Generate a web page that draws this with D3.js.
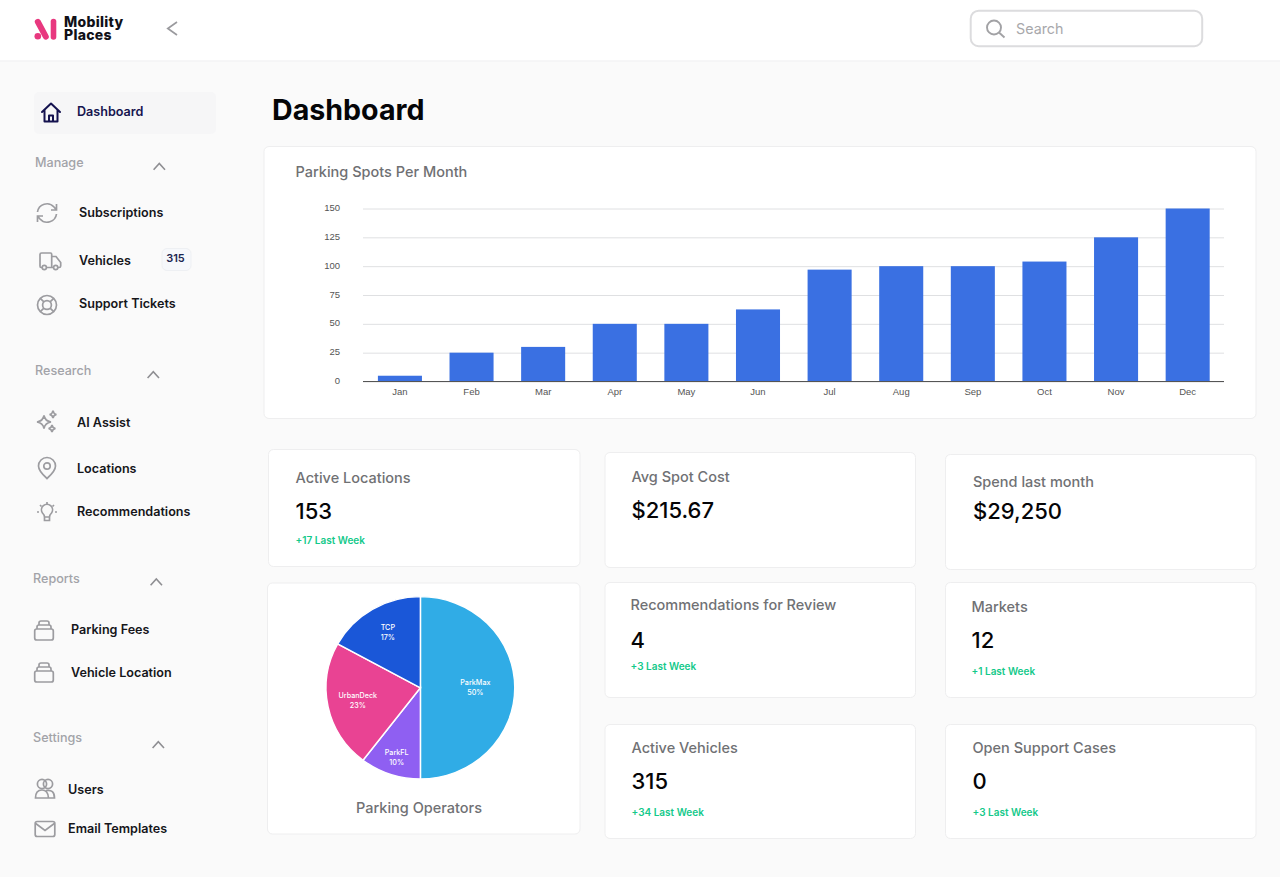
<!DOCTYPE html>
<html lang="en">
<head>
<meta charset="UTF-8">
<title>Mobility Places Dashboard</title>
<script src="https://cdn.jsdelivr.net/npm/d3@7"></script>
<style>
  html, body { margin: 0; padding: 0; background: #fafafa; }
  svg { display: block; font-family: Inter, "Noto Sans", sans-serif; }
</style>
</head>
<body>
<div id="container"></div>
<script>
    /* Data */
    const months = ['Jan', 'Feb', 'Mar', 'Apr', 'May', 'Jun', 'Jul', 'Aug', 'Sep', 'Oct', 'Nov', 'Dec']
    const spots = [5, 25, 30, 50, 50, 62.5, 97, 100, 100, 104, 125, 150]
    const yTicks = [0, 25, 50, 75, 100, 125, 150]

    const operators = ['ParkMax', 'ParkFL', 'UrbanDeck', 'TCP']
    const operatorShare = [50, 10.4, 22.6, 17]
    const operatorColors = ['#30ace6', '#8f5ff2', '#e94393', '#1a57d8']

    const cardTitles = ['Active Locations', 'Avg Spot Cost', 'Spend last month', 'Recommendations for Review', 'Markets', 'Active Vehicles', 'Open Support Cases']
    const cardValues = ['153', '$215.67', '$29,250', '4', '12', '315', '0']
    const cardDeltas = ['+17 Last Week', '', '', '+3 Last Week', '+1 Last Week', '+34 Last Week', '+3 Last Week']

    const navLabels = ['Subscriptions', 'Vehicles', 'Support Tickets', 'AI Assist', 'Locations', 'Recommendations', 'Parking Fees', 'Vehicle Location', 'Users', 'Email Templates']
    const navIcons = ['sync', 'truck', 'lifebuoy', 'sparkle', 'pin', 'bulb', 'stack', 'stack', 'users', 'mail']
    const sectionLabels = ['Manage', 'Research', 'Reports', 'Settings']

    /* Layout */
    const width = 1280
    const height = 877
    const cardLayout = [
        {x: 268.5, y: 449.5, w: 311.5, h: 117, tx: 295.5, ty: 483, vy: 519, dy: 544},
        {x: 605, y: 452.5, w: 310.5, h: 115, tx: 631.5, ty: 482, vy: 517.5, dy: 0},
        {x: 945.5, y: 454.5, w: 310.5, h: 115, tx: 973, ty: 487, vy: 518.5, dy: 0},
        {x: 605, y: 582.5, w: 310.5, h: 115, tx: 630.5, ty: 610, vy: 647.5, dy: 670},
        {x: 945.5, y: 582.5, w: 310.5, h: 115, tx: 971.5, ty: 612, vy: 647.5, dy: 675},
        {x: 605, y: 724.5, w: 310.5, h: 114, tx: 631.5, ty: 753, vy: 789, dy: 816},
        {x: 945.5, y: 724.5, w: 310.5, h: 114, tx: 972.5, ty: 753, vy: 789, dy: 816}
    ]
    const navLayout = [
        {ix: 47, iy: 213, tx: 79, ty: 217},
        {ix: 50, iy: 261, tx: 79, ty: 264.7},
        {ix: 47, iy: 305, tx: 79, ty: 308},
        {ix: 47, iy: 422, tx: 77, ty: 427},
        {ix: 47, iy: 468, tx: 77, ty: 472.7},
        {ix: 47, iy: 512, tx: 77, ty: 516},
        {ix: 44, iy: 630, tx: 71, ty: 634},
        {ix: 44, iy: 672, tx: 71, ty: 676.7},
        {ix: 45, iy: 789, tx: 68, ty: 793.7},
        {ix: 45, iy: 829, tx: 68, ty: 832.7}
    ]
    const sectionLayout = [
        {x: 35, y: 167, cx: 159.3, cy: 163.5},
        {x: 35, y: 375, cx: 153.3, cy: 371.7},
        {x: 33, y: 583, cx: 156.3, cy: 579},
        {x: 33, y: 742, cx: 158.3, cy: 741.7}
    ]
    const pieLabelRadius = [55, 74, 64, 64]

    const svg = d3.select('#container').append('svg')
        .attr('width', width)
        .attr('height', height)

    svg.append('rect').attr('width', width).attr('height', height).attr('fill', '#fafafa')

    /* Header */
    svg.append('rect').attr('width', width).attr('height', 60.5).attr('fill', '#ffffff')
    svg.append('line').attr('x1', 0).attr('x2', width).attr('y1', 61).attr('y2', 61)
        .attr('stroke', '#f3f3f4').attr('stroke-width', 1.5)

    const logo = svg.append('g').attr('id', 'logo').attr('fill', 'none').attr('stroke', '#e8387f').attr('stroke-linecap', 'round')
    logo.append('circle').attr('cx', 37.8).attr('cy', 36.2).attr('r', 3.3).attr('fill', '#e8387f').attr('stroke', 'none')
    logo.append('path').attr('d', 'M37.8 21.8 L45.8 36.6').attr('stroke-width', 6)
    logo.append('path').attr('d', 'M53.5 21.5 V37').attr('stroke-width', 5.6)

    const logoText = svg.append('text')
        .attr('font-size', 14).attr('font-weight', 800).attr('fill', '#111118')
        .attr('letter-spacing', 0.3)
    logoText.append('tspan').attr('x', 64).attr('y', 27.3).text('Mobility')
    logoText.append('tspan').attr('x', 64).attr('y', 39.5).text('Places')

    svg.append('path').attr('d', 'M177 22 L167.8 28.5 L177 35')
        .attr('fill', 'none').attr('stroke', '#9a9a9e').attr('stroke-width', 1.7)

    /* Search box */
    svg.append('rect').attr('x', 970.7).attr('y', 10.7).attr('width', 231.5).attr('height', 35.5).attr('rx', 8)
        .attr('fill', '#ffffff').attr('stroke', '#dcdcde').attr('stroke-width', 2)
    svg.append('circle').attr('cx', 994).attr('cy', 27.5).attr('r', 7).attr('fill', 'none')
        .attr('stroke', '#a2a2a5').attr('stroke-width', 1.9)
    svg.append('line').attr('x1', 999).attr('y1', 32.5).attr('x2', 1004.5).attr('y2', 37.5)
        .attr('stroke', '#a2a2a5').attr('stroke-width', 1.9)
    svg.append('text').attr('x', 1016).attr('y', 34).attr('font-size', 14.3).attr('fill', '#a8a8ab').text('Search')

    /* Sidebar */
    svg.append('rect').attr('x', 34).attr('y', 92).attr('width', 182).attr('height', 42).attr('rx', 5).attr('fill', '#f6f6f7')
    svg.append('path')
        .attr('d', 'M42 112 L51 103.5 L60 112 M44.5 110 V121.5 H57.5 V110 M49 121.5 V115.5 H53 V121.5')
        .attr('fill', 'none').attr('stroke', '#14124f').attr('stroke-width', 2).attr('stroke-linejoin', 'round').attr('stroke-linecap', 'round')
    svg.append('text').attr('x', 77).attr('y', 116).attr('font-size', 12.6).attr('font-weight', 600).attr('fill', '#17154f').text('Dashboard')

    const sections = svg.append('g').attr('id', 'sections')
    sectionLabels.forEach((label, i) => {
        const s = sectionLayout[i]
        sections.append('text').attr('x', s.x).attr('y', s.y).attr('font-size', 12.6).attr('font-weight', 500).attr('fill', '#a2a3a8').text(label)
        sections.append('path').attr('d', `M${s.cx - 5.7} ${s.cy + 6.3} L${s.cx} ${s.cy} L${s.cx + 5.7} ${s.cy + 6.3}`)
            .attr('fill', 'none').attr('stroke', '#8e8e92').attr('stroke-width', 1.6)
    })

    function drawIcon(g, name) {
        const line = d => g.append('path').attr('d', d)
        if (name === 'sync') {
            line('M-9.5 -1 A9.5 9.5 0 0 1 7 -6 L9.5 -3 M9.5 -9 V-3 H4')
            line('M9.5 1 A9.5 9.5 0 0 1 -7 6 L-9.5 3 M-9.5 9 V3 H-4')
        } else if (name === 'truck') {
            line('M-8 6.5 H-9 Q-10 6.5 -10 5 V-6.5 Q-10 -8 -8.5 -8 H0.5 Q1.7 -8 1.7 -6.5 V6.5 H-3.5 M1.7 -4.5 H6 L10.7 1.5 V5 Q10.7 6.5 9 6.5 H8 M1.7 6.5 H3.5')
            g.append('circle').attr('cx', -5.7).attr('cy', 6.5).attr('r', 2.1)
            g.append('circle').attr('cx', 5.7).attr('cy', 6.5).attr('r', 2.1)
        } else if (name === 'lifebuoy') {
            g.append('circle').attr('r', 9.5)
            g.append('circle').attr('r', 4.4)
            line('M-6.7 -6.7 L-3.1 -3.1 M6.7 -6.7 L3.1 -3.1 M-6.7 6.7 L-3.1 3.1 M6.7 6.7 L3.1 3.1')
        } else if (name === 'sparkle') {
            line('M-3 -6.5 Q-2 -1 4 0 Q-2 1 -3 6.5 Q-4 1 -10 0 Q-4 -1 -3 -6.5 Z')
            line('M6 -11.5 Q6.5 -8 9.5 -7.5 Q6.5 -7 6 -4 Q5.5 -7 2.5 -7.5 Q5.5 -8 6 -11.5 Z')
            line('M5 3 Q5.5 6 8.5 6.5 Q5.5 7 5 10 Q4.5 7 1.5 6.5 Q4.5 6 5 3 Z')
        } else if (name === 'pin') {
            line('M0 10.5 Q-8.5 3 -8.5 -2 A8.5 8.5 0 0 1 8.5 -2 Q8.5 3 0 10.5 Z')
            g.append('circle').attr('cy', -2).attr('r', 3.2)
        } else if (name === 'bulb') {
            line('M-2.5 5 Q-2.5 3 -4.5 1 A5.5 5.5 0 1 1 4.5 1 Q2.5 3 2.5 5 Z M-2.5 5 V8.5 H2.5 V5')
            line('M0 -10 V-8 M-7 -7 L-5.5 -5.5 M7 -7 L5.5 -5.5 M-10 0 H-8 M10 0 H8')
        } else if (name === 'stack') {
            line('M-9.3 1 Q-9.3 -1 -7.3 -1 H7.3 Q9.3 -1 9.3 1 V8 Q9.3 10 7.3 10 H-7.3 Q-9.3 10 -9.3 8 Z')
            line('M-7 -1 V-3 Q-7 -5 -5 -5 H5 Q7 -5 7 -3 V-1')
            line('M-5 -5 V-7 Q-5 -9 -3 -9 H3 Q5 -9 5 -7 V-5')
        } else if (name === 'users') {
            g.append('circle').attr('cx', -3).attr('cy', -5).attr('r', 4.6)
            g.append('circle').attr('cx', 3).attr('cy', -5).attr('r', 4.6)
            line('M-9.5 9 Q-9.5 1 -3 1 Q3 1 3.5 9 Z M1 1.5 Q9.5 0 9.5 9 H3.5')
        } else if (name === 'mail') {
            g.append('rect').attr('x', -9.8).attr('y', -7.5).attr('width', 19.6).attr('height', 15).attr('rx', 2)
            line('M-9.3 -5.5 L0 1.5 L9.3 -5.5')
        }
    }

    const nav = svg.append('g').attr('id', 'nav')
    navLabels.forEach((label, i) => {
        const n = navLayout[i]
        const icon = nav.append('g')
            .attr('transform', `translate(${n.ix},${n.iy})`)
            .attr('fill', 'none').attr('stroke', '#9c9ca0').attr('stroke-width', 1.7)
        drawIcon(icon, navIcons[i])
        nav.append('text').attr('x', n.tx).attr('y', n.ty).attr('font-size', 12.6).attr('font-weight', 600).attr('fill', '#16161a').text(label)
    })

    svg.append('rect').attr('x', 162).attr('y', 248.5).attr('width', 29).attr('height', 22).attr('rx', 5)
        .attr('fill', '#f6f8fb').attr('stroke', '#eef0f3')
    svg.append('text').attr('x', 175.5).attr('y', 262).attr('text-anchor', 'middle').attr('font-size', 11).attr('font-weight', 600).attr('fill', '#1b2550').text('315')

    /* Page title */
    svg.append('text').attr('x', 272).attr('y', 120).attr('font-size', 28.6).attr('font-weight', 700).attr('fill', '#050507').text('Dashboard')

    const cardRect = (x, y, w, h) => svg.append('rect')
        .attr('x', x).attr('y', y).attr('width', w).attr('height', h).attr('rx', 5)
        .attr('fill', '#ffffff').attr('stroke', '#eeeeef')

    /* Bar chart */
    cardRect(264, 146.5, 992, 272)
    svg.append('text').attr('x', 295.5).attr('y', 177).attr('font-size', 14.5).attr('font-weight', 500).attr('fill', '#6f7073').text('Parking Spots Per Month')

    const x = d3.scaleBand().domain(months).range([364.3, 1223.3]).paddingInner(0.385).paddingOuter(0.19)
    const y = d3.scaleLinear().domain([0, 150]).range([381.5, 208.5])

    const yAxis = svg.append('g').attr('transform', 'translate(363,0)')
        .call(d3.axisLeft(y).tickValues(yTicks).tickSize(-861).tickPadding(23))
    yAxis.select('.domain').remove()
    yAxis.selectAll('line').attr('stroke', '#dfe0e2')
    yAxis.selectAll('text').attr('font-family', 'Liberation Sans, Arial, sans-serif').attr('font-size', 9.5).attr('fill', '#555').attr('dy', '0.22em')

    svg.append('g').selectAll('rect').data(spots).enter().append('rect')
        .attr('x', (d, i) => x(months[i]))
        .attr('y', d => y(d))
        .attr('width', x.bandwidth())
        .attr('height', d => y(0) - y(d))
        .attr('fill', '#3a70e2')

    const xAxis = svg.append('g').attr('transform', 'translate(0,381.5)')
        .call(d3.axisBottom(x).tickSize(0).tickPadding(7))
    xAxis.select('.domain').attr('stroke', '#555').attr('d', 'M363 0 H1224')
    xAxis.selectAll('text').attr('font-family', 'Liberation Sans, Arial, sans-serif').attr('font-size', 9.5).attr('fill', '#555')

    /* Stat cards */
    cardTitles.forEach((title, i) => {
        const c = cardLayout[i]
        cardRect(c.x, c.y, c.w, c.h)
        svg.append('text').attr('x', c.tx).attr('y', c.ty).attr('font-size', 14.5).attr('font-weight', 500).attr('fill', '#707174').text(title)
        svg.append('text').attr('x', c.tx).attr('y', c.vy).attr('font-size', 22).attr('font-weight', 500).attr('fill', '#050507').text(cardValues[i])
        if (cardDeltas[i]) {
            svg.append('text').attr('x', c.tx).attr('y', c.dy).attr('font-size', 10).attr('font-weight', 600).attr('fill', '#14c98a').text(cardDeltas[i])
        }
    })

    /* Pie */
    cardRect(267.5, 583, 312.5, 251)

    const pie = d3.pie().sort(null)(operatorShare)
    const arc = d3.arc().innerRadius(0).outerRadius(94.4)
    const pieGroup = svg.append('g').attr('transform', 'translate(420.4,687.8) scale(1,0.966)')
    pieGroup.selectAll('path').data(pie).enter().append('path')
        .attr('d', arc)
        .attr('fill', (d, i) => operatorColors[i])
        .attr('stroke', '#ffffff')
        .attr('stroke-width', 1.5)

    const pieLabels = svg.append('g').attr('transform', 'translate(420.4,687.8)')
    pie.forEach((d, i) => {
        const r = pieLabelRadius[i]
        const p = d3.arc().innerRadius(r).outerRadius(r).centroid(d)
        const t = pieLabels.append('text').attr('text-anchor', 'middle')
            .attr('font-size', 7.2).attr('font-weight', 500).attr('fill', '#ffffff')
        t.append('tspan').attr('x', p[0]).attr('y', p[1] - 3).text(operators[i])
        t.append('tspan').attr('x', p[0]).attr('y', p[1] + 7.5).text(Math.round(operatorShare[i]) + '%')
    })

    svg.append('text').attr('x', 419).attr('y', 813).attr('text-anchor', 'middle')
        .attr('font-size', 14.5).attr('font-weight', 500).attr('fill', '#707174').text('Parking Operators')
</script>
</body>
</html>
